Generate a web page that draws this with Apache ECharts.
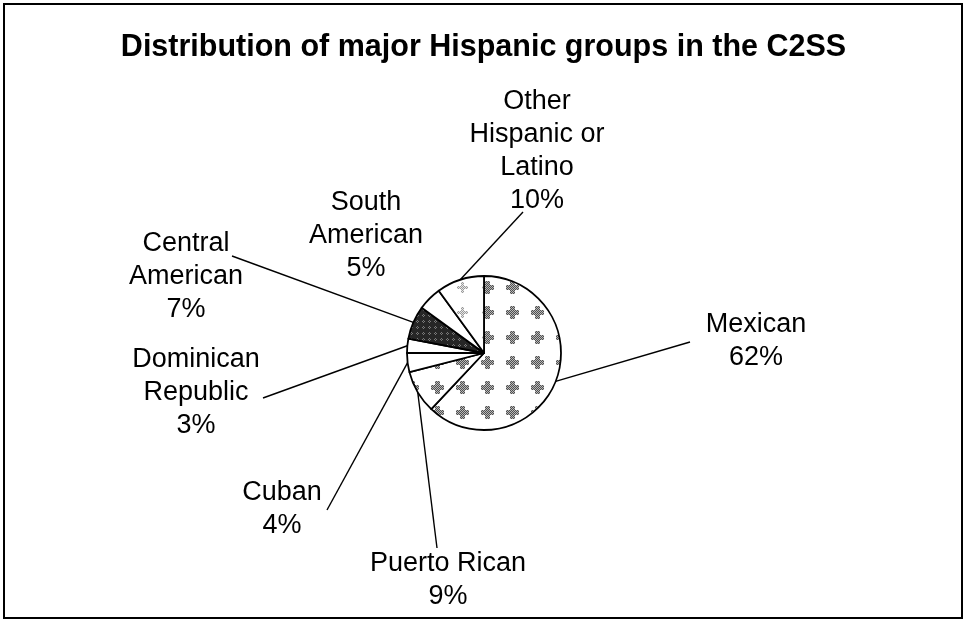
<!DOCTYPE html>
<html><head><meta charset="utf-8">
<script src="https://cdn.jsdelivr.net/npm/echarts@6/dist/echarts.min.js"></script>
<style>html,body{margin:0;padding:0;background:#fff}#c{width:967px;height:622px}</style>
</head><body><div id="c"></div>
<script>
// ---- data ----
const titleText = 'Distribution of major Hispanic groups in the C2SS';
const categories = ['Mexican', 'Puerto Rican', 'Cuban', 'Dominican\nRepublic', 'Central\nAmerican', 'South\nAmerican', 'Other\nHispanic or\nLatino'];
const values = [62, 9, 4, 3, 7, 5, 10];

// ---- layout (label anchor positions and leader-line ends, px) ----
const labelPos = [[756, 341], [448, 580], [282, 509], [196, 393], [186, 277], [366, 236], [537, 151]];
const lineEnd = [[690, 342], [437, 548], [327, 510], [263, 398], [232, 256], null, [523, 212]];

function makePattern(bg, dark, light, step, arm, th) {
  const cv = document.createElement('canvas');
  cv.width = step; cv.height = step;
  const g = cv.getContext('2d');
  g.fillStyle = bg; g.fillRect(0, 0, step, step);
  const c = Math.floor(step / 2);
  for (let y = -arm; y <= arm; y++) {
    for (let x = -arm; x <= arm; x++) {
      const inCross = (Math.abs(x) <= th && Math.abs(y) <= arm) || (Math.abs(y) <= th && Math.abs(x) <= arm);
      if (!inCross) continue;
      g.fillStyle = ((x + y) & 1) ? dark : light;
      g.fillRect(c + x, c + y, 1, 1);
    }
  }
  return { image: cv, repeat: 'repeat' };
}
const patMex = makePattern('#ffffff', '#505050', '#b8b8b8', 25, 6, 2);
const patOther = makePattern('#ffffff', '#9a9a9a', '#e6e6e6', 25, 5, 1);
const patDark = makePattern('#262626', '#7a7a7a', '#262626', 6, 1, 0);
const fills = [patMex, patMex, '#ffffff', '#ffffff', patDark, '#ffffff', patOther];

const chart = echarts.init(document.getElementById('c'), null, { renderer: 'canvas' });
chart.setOption({
  animation: false,
  backgroundColor: '#ffffff',
  title: {
    text: titleText,
    left: 'center',
    top: 27,
    textStyle: { fontFamily: 'Liberation Sans', fontWeight: 'bold', fontSize: 30.5, color: '#000' }
  },
  graphic: [{
    type: 'rect', silent: true,
    shape: { x: 4, y: 4, width: 958, height: 614 },
    style: { fill: 'none', stroke: '#000', lineWidth: 2 }
  }],
  series: [{
    type: 'pie',
    center: [484, 353],
    radius: 77,
    startAngle: 90,
    clockwise: true,
    avoidLabelOverlap: false,
    data: categories.map((n, i) => ({
      name: n, value: values[i],
      itemStyle: { color: fills[i] },
      labelLine: { show: lineEnd[i] !== null }
    })),
    itemStyle: { borderColor: '#000', borderWidth: 1.8 },
    label: {
      show: true,
      formatter: '{b}\n{c}%',
      fontFamily: 'Liberation Sans',
      fontSize: 27,
      lineHeight: 33,
      color: '#000',
      align: 'center'
    },
    labelLine: { length: 10, length2: 0, lineStyle: { color: '#000', width: 1.4 } },
    labelLayout: function (p) {
      const q = labelPos[p.dataIndex];
      const out = { x: q[0], y: q[1], align: 'center', verticalAlign: 'middle' };
      const e = lineEnd[p.dataIndex];
      if (e && p.labelLinePoints) out.labelLinePoints = [p.labelLinePoints[0].slice(), e];
      return out;
    },
    emphasis: { disabled: true }
  }]
});
</script></body></html>
